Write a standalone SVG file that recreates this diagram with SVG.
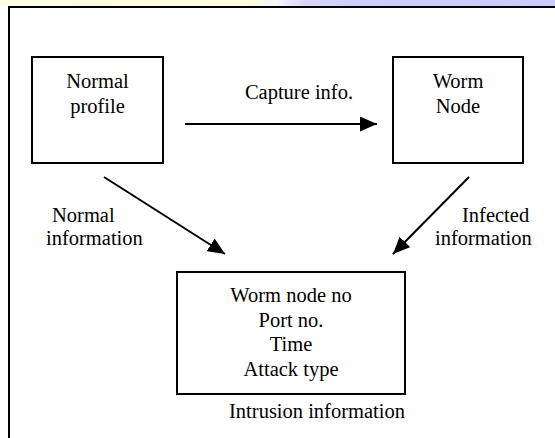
<svg xmlns="http://www.w3.org/2000/svg" width="555" height="438" viewBox="0 0 555 438">
  <defs>
    <linearGradient id="band" x1="0" y1="0" x2="1" y2="0">
      <stop offset="0" stop-color="#FFFFE2"/>
      <stop offset="0.45" stop-color="#FFFDDC"/>
      <stop offset="0.5" stop-color="#F4F4FC"/>
      <stop offset="0.55" stop-color="#DCD4F8"/>
      <stop offset="0.62" stop-color="#CDD0FC"/>
      <stop offset="1" stop-color="#C8CCFF"/>
    </linearGradient>
    <marker id="head" markerUnits="userSpaceOnUse" markerWidth="17" markerHeight="15" refX="17" refY="7.5" orient="auto">
      <path d="M0,0 L17,7.5 L0,15 Z" fill="#000"/>
    </marker>
    <style>
      .box { fill: #fff; stroke: #000; stroke-width: 2; }
      .lbl { font-size: 20.5px; fill: #000; }
      .mid { text-anchor: middle; }
      .edge { stroke: #000; stroke-width: 2; fill: none; marker-end: url(#head); }
    </style>
  </defs>

  <!-- page background and coloured band -->
  <rect x="0" y="0" width="555" height="438" fill="#fff"/>
  <rect x="0" y="0" width="555" height="6.5" fill="url(#band)"/>

  <!-- outer frame (top and left edges) -->
  <path d="M9,438 V7 H555" fill="none" stroke="#000" stroke-width="2"/>

  <g font-family="Liberation Serif, DejaVu Serif, serif">
    <g id="normal-profile">
      <rect class="box" x="32" y="57" width="131" height="106"/>
      <text class="lbl mid" x="97.5" y="88">Normal</text>
      <text class="lbl mid" x="97.5" y="112.5">profile</text>
    </g>

    <g id="worm-node">
      <rect class="box" x="393" y="57" width="130" height="106"/>
      <text class="lbl mid" x="458" y="88">Worm</text>
      <text class="lbl mid" x="458" y="112.5">Node</text>
    </g>

    <g id="intrusion-info">
      <rect class="box" x="177" y="272" width="228" height="122"/>
      <text class="lbl mid" x="291" y="302">Worm node no</text>
      <text class="lbl mid" x="291" y="326.5">Port no.</text>
      <text class="lbl mid" x="291" y="351">Time</text>
      <text class="lbl mid" x="291" y="375.5">Attack type</text>
      <text class="lbl mid" x="317" y="418">Intrusion information</text>
    </g>

    <g id="connectors">
      <line class="edge" x1="185" y1="124" x2="377" y2="124"/>
      <line class="edge" x1="104" y1="177" x2="225" y2="254"/>
      <line class="edge" x1="469" y1="177" x2="393" y2="254"/>
      <text class="lbl mid" x="299" y="99">Capture info.</text>
      <text class="lbl" x="52" y="222">Normal</text>
      <text class="lbl" x="46" y="245">information</text>
      <text class="lbl" x="462" y="222">Infected</text>
      <text class="lbl" x="435" y="245">information</text>
    </g>
  </g>
</svg>
